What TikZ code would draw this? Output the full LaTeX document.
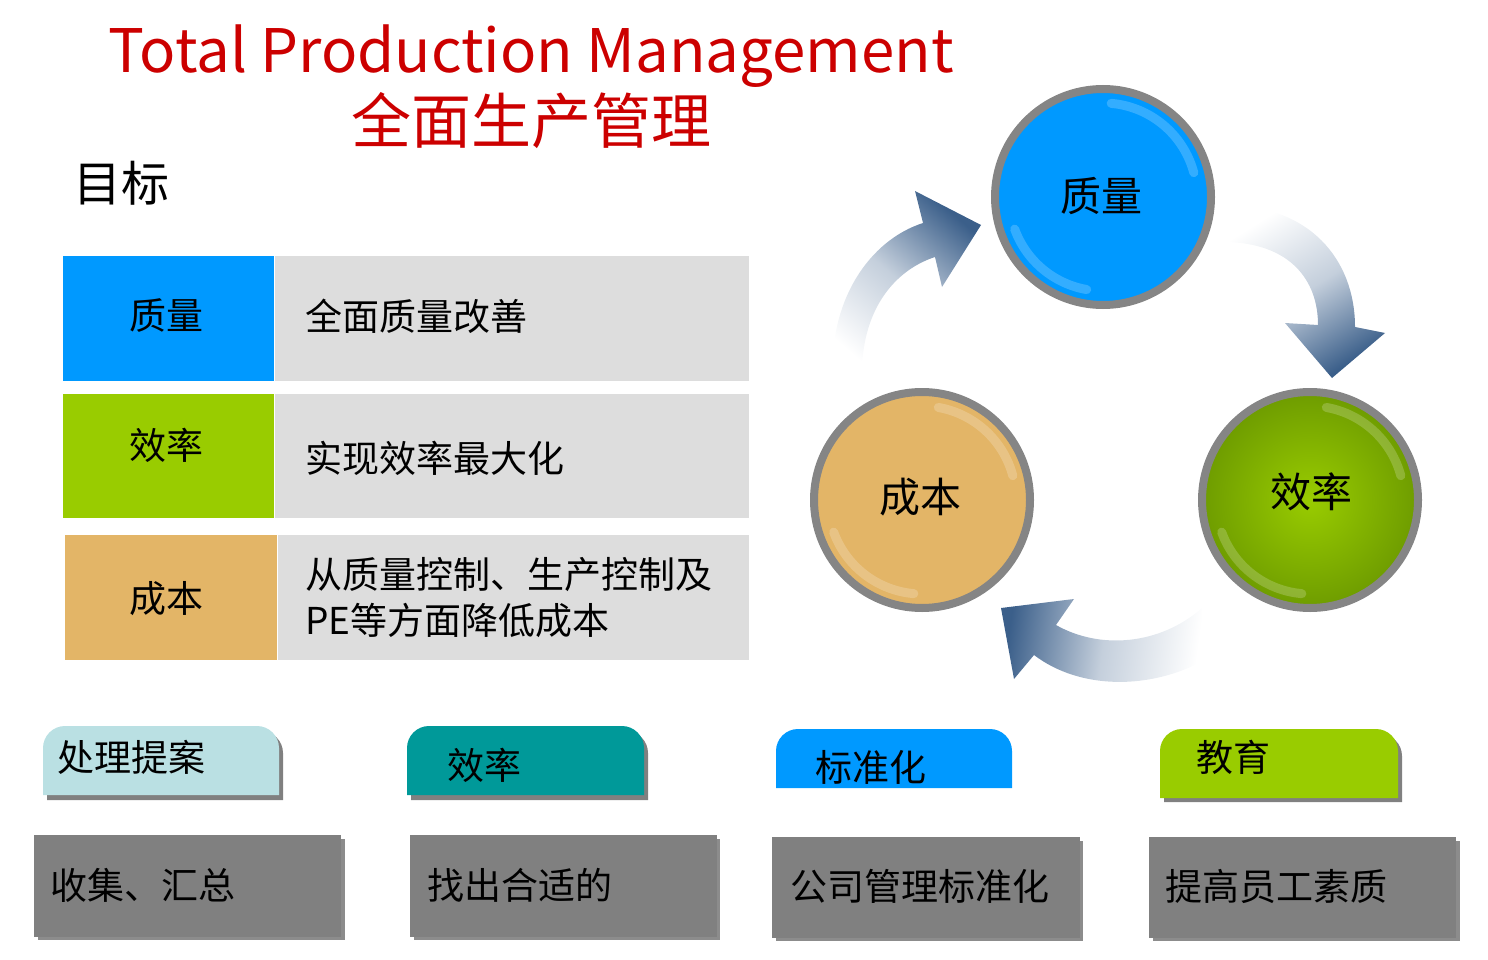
\documentclass[tikz,border=0pt]{standalone}
\usepackage{fontspec}
\setmainfont{Noto Sans CJK SC}
\definecolor{qblue}{HTML}{0099FF}
\definecolor{egreen}{HTML}{99CC00}
\definecolor{egreendk}{HTML}{6E9C00}
\definecolor{ctan}{HTML}{E3B567}
\definecolor{lgray}{HTML}{DDDDDD}
\definecolor{tabcyan}{HTML}{BAE0E3}
\definecolor{tealc}{HTML}{009999}
\definecolor{boxgray}{HTML}{808080}
\definecolor{shgray}{HTML}{8C8C8C}
\definecolor{ringgray}{HTML}{858585}
\definecolor{titlered}{HTML}{CC0000}
\definecolor{arrowblue}{HTML}{3B5F8A}
\newcommand\tabpath[5]{(#1,#4) -- (#1,#2+#5) .. controls (#1,#2+0.45*#5) and (#1+0.45*#5,#2) .. (#1+#5,#2) -- (#3-#5,#2) .. controls (#3-0.45*#5,#2) and (#3,#2+0.45*#5) .. (#3,#2+#5) -- (#3,#4) -- cycle}
\tikzset{
  txt/.style={inner sep=0pt, font=\fontsize{37}{46}\selectfont, text=black},
  ctxt/.style={inner sep=0pt, font=\fontsize{41}{46}\selectfont, text=black},
  cell/.style={rectangle, inner sep=0pt, anchor=north west},
  ball/.style={circle, draw=ringgray, line width=8pt, minimum size=216pt, inner sep=0pt},
  gloss/.style={white, opacity=0.2, line width=9pt, line cap=round},
  fatarrow/.style={top color=arrowblue, bottom color=white, middle color=arrowblue!30!white},
}
\begin{document}
\begin{tikzpicture}[x=1pt,y=-1pt]
\useasboundingbox (0,0) rectangle (1488,960);

% Title
\node[inner sep=0pt, anchor=base, text=titlered, font=\fontsize{60}{66}\selectfont] (title) at (531,73) {Total Production Management};
\node[inner sep=0pt, text=titlered, font=\fontsize{60}{66}\selectfont] (titlecn) at (531,121) {全面生产管理};
\node[inner sep=0pt, font=\fontsize{48}{52}\selectfont] (goal) at (121,183) {目标};

% Table
\node[cell, fill=qblue, minimum width=211pt, minimum height=125pt] (r1a) at (63,256) {};
\node[cell, fill=lgray, minimum width=474pt, minimum height=125pt] (r1b) at (275,256) {};
\node[cell, fill=egreen, minimum width=211pt, minimum height=124pt] (r2a) at (63,394) {};
\node[cell, fill=lgray, minimum width=474pt, minimum height=124pt] (r2b) at (275,394) {};
\node[cell, fill=ctan, minimum width=212pt, minimum height=125pt] (r3a) at (65,535) {};
\node[cell, fill=lgray, minimum width=471pt, minimum height=125pt] (r3b) at (278,535) {};

\node[txt] (r1l) at (166,316) {质量};
\node[txt] (r2l) at (166,445) {效率};
\node[txt] (r3l) at (166,599) {成本};
\node[txt, anchor=west] (r1t) at (305,316) {全面质量改善};
\node[txt, anchor=west] (r2t) at (305,458) {实现效率最大化};
\node[txt, anchor=west, align=left] (r3t) at (305,598) {从质量控制、生产控制及\\PE等方面降低成本};

% Arrows
\shade[fatarrow, shading angle=-41]
  (833,380) .. controls (828,300) and (870,240) .. (923,223)
  -- (915,191) -- (981,225) -- (942,287) -- (935,257)
  .. controls (895,270) and (860,310) .. (862,380) -- cycle;
\shade[fatarrow, shading angle=-148]
  (1225,205) .. controls (1310,205) and (1355,260) .. (1355,327)
  -- (1385,333) -- (1332,378) -- (1285,323) -- (1318,325)
  .. controls (1318,280) and (1290,243) .. (1225,242) -- cycle;
\shade[fatarrow, shading angle=82]
  (1202,608) .. controls (1160,645) and (1100,650) .. (1056,625)
  -- (1074,599) -- (1001,608) -- (1014,679) -- (1034,655)
  .. controls (1080,690) and (1150,690) .. (1205,660) -- cycle;

% Circles
\node[ball, fill=qblue] (cq) at (1103,197) {};
\draw[gloss] plot[smooth, domain=-85:-15, samples=20] ({1103+94*cos(\x)},{197+94*sin(\x)});
\draw[gloss] plot[smooth, domain=100:160, samples=20] ({1103+94*cos(\x)},{197+94*sin(\x)});
\node[ctxt] (cqt) at (1101,196) {质量};

\node[ball, inner color=egreen, outer color=egreendk] (ce) at (1310,500) {};
\draw[gloss] plot[smooth, domain=-80:-15, samples=20] ({1310+94*cos(\x)},{500+94*sin(\x)});
\draw[gloss] plot[smooth, domain=95:160, samples=20] ({1310+94*cos(\x)},{500+94*sin(\x)});
\node[ctxt] (cet) at (1311,492) {效率};

\node[ball, fill=ctan] (cc) at (922,500) {};
\draw[gloss] plot[smooth, domain=-80:-15, samples=20] ({922+94*cos(\x)},{500+94*sin(\x)});
\draw[gloss] plot[smooth, domain=95:160, samples=20] ({922+94*cos(\x)},{500+94*sin(\x)});
\node[ctxt] (cct) at (920,497) {成本};

% Bottom tabs
\fill[boxgray] \tabpath{47}{731}{283}{800}{22};
\fill[tabcyan] \tabpath{43}{726}{279}{795}{22};
\fill[boxgray] \tabpath{411}{731}{648}{800}{22};
\fill[tealc] \tabpath{407}{726}{644}{795}{22};
\fill[qblue] \tabpath{776}{729}{1012}{788}{22};
\fill[boxgray] \tabpath{1164}{734}{1402}{802}{22};
\fill[egreen] \tabpath{1160}{729}{1398}{798}{22};
\node[txt, anchor=west] (t1) at (57,757) {处理提案};
\node[txt, anchor=west] (t2) at (447,765) {效率};
\node[txt, anchor=west] (t3) at (815,767) {标准化};
\node[txt, anchor=west] (t4) at (1196,757) {教育};

% Bottom boxes
\fill[shgray] (38,839) rectangle (345,940);
\node[cell, fill=boxgray, minimum width=307pt, minimum height=102pt] (b1) at (34,835) {};
\fill[shgray] (414,839) rectangle (720,940);
\node[cell, fill=boxgray, minimum width=307pt, minimum height=102pt] (b2) at (410,835) {};
\fill[shgray] (776,841) rectangle (1083,941);
\node[cell, fill=boxgray, minimum width=308pt, minimum height=101pt] (b3) at (772,837) {};
\fill[shgray] (1153,841) rectangle (1460,941);
\node[cell, fill=boxgray, minimum width=307pt, minimum height=101pt] (b4) at (1149,837) {};
\node[txt, anchor=west] (b1t) at (50,885) {收集、汇总};
\node[txt, anchor=west] (b2t) at (427,885) {找出合适的};
\node[txt, anchor=west] (b3t) at (790,886) {公司管理标准化};
\node[txt, anchor=west] (b4t) at (1165,886) {提高员工素质};
\end{tikzpicture}
\end{document}
